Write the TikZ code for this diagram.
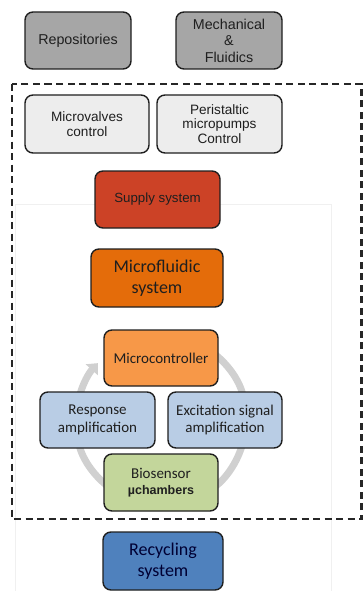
\documentclass[tikz,border=0pt]{standalone}
\usepackage{fontspec}
\setmainfont{Liberation Sans}
\newfontfamily\calibri{Carlito}
\usetikzlibrary{arrows.meta,positioning,backgrounds}
\definecolor{topgray}{RGB}{166,166,166}
\definecolor{ctrlgray}{RGB}{237,237,237}
\definecolor{supplyred}{RGB}{204,66,38}
\definecolor{fluidorange}{RGB}{228,108,10}
\definecolor{mcuorange}{RGB}{247,152,72}
\definecolor{ampblue}{RGB}{185,205,229}
\definecolor{sensegreen}{RGB}{195,214,155}
\definecolor{recycleblue}{RGB}{79,129,189}
\definecolor{cycgray}{RGB}{208,208,208}

\begin{document}
\begin{tikzpicture}[x=1pt,y=-1pt,
            every node/.style={align=center,text=black!88,font=\fontsize{14.3}{16.5}\selectfont},
            box/.style={draw=black!88,line width=1.4pt,rounded corners=8pt,inner sep=0pt},
            sbox/.style={box,font=\calibri\fontsize{15}{17.5}\selectfont},
            bbox/.style={box,font=\calibri\fontsize{18}{21.5}\selectfont},
            cyc/.style={draw=cycgray,line width=7pt,-{Triangle[width=16pt,length=9pt]}}
            ]
            \useasboundingbox (0,0) rectangle (363,591);
            % faint panel behind the lower part
            \draw[black!6,line width=0.6pt] (15,600) -- (15,204) -- (331,204) -- (331,600);
            % outer components
            \node[box,fill=topgray,minimum width=106pt,minimum height=57pt] (repos) at (78,40.5) {Repositories};
            \node[box,fill=topgray,minimum width=106pt,minimum height=57pt] (mech) at (229,40.5) {Mechanical\\\&\\Fluidics};
            % dashed frame
            \draw[black!85,line width=2.6pt,dash pattern=on 7pt off 4.5pt] (12,84) rectangle (361.5,519);
            \node[box,fill=ctrlgray,minimum width=124pt,minimum height=58pt,font=\fontsize{13.6}{15.5}\selectfont] (valves) at (87,124) {Microvalves\\control};
            \node[box,fill=ctrlgray,minimum width=125pt,minimum height=58pt,font=\fontsize{13.6}{14.6}\selectfont] (pumps) at (219.5,124) {Peristaltic\\micropumps\\Control};
            \node[box,fill=supplyred,minimum width=125pt,minimum height=57pt,font=\fontsize{13.3}{15}\selectfont] (supply) at (157.5,199.5) {Supply system};
            \node[bbox,fill=fluidorange,minimum width=132pt,minimum height=58pt] (fluidic) at (157,278) {Microfluidic\\system};
            % measurement cycle
            \coordinate (hub) at (161,420);
            \foreach \a/\b in {170/138,60/10,-10/-60,-120/-170}
              \draw[cyc] (hub) ++(\a:85pt) arc[start angle=\a,end angle=\b,radius=85pt];
            \node[sbox,fill=mcuorange,minimum width=114pt,minimum height=56pt] (mcu) at (161,358) {Microcontroller};
            \node[sbox,fill=ampblue,minimum width=115pt,minimum height=56pt] (resp) at (97.5,420) {Response\\amplification};
            \node[sbox,fill=ampblue,minimum width=114pt,minimum height=56pt] (excit) at (225,420) {Excitation signal\\amplification};
            \node[sbox,fill=sensegreen,minimum width=114pt,minimum height=57pt] (sensor) at (161,482.5) {Biosensor\\[-2pt]{\fontspec{Liberation Sans}\bfseries\fontsize{12.5}{14}\selectfont µchambers}};
            % outside again
            \node[bbox,fill=recycleblue,minimum width=120pt,minimum height=58pt,text=black!80!blue] (recycle) at (163,561) {Recycling\\system};
\end{tikzpicture}
\end{document}
